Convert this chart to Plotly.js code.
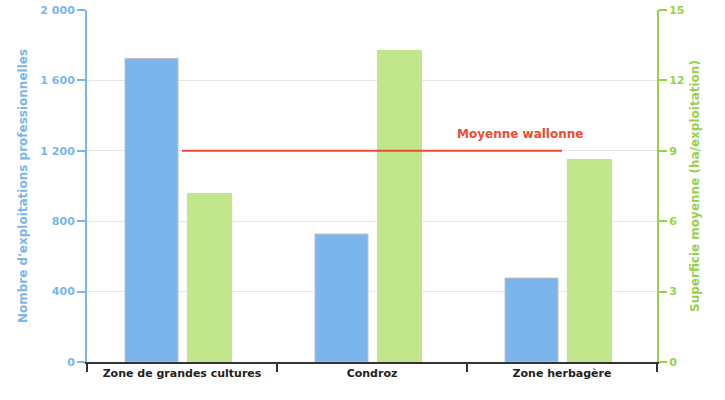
<!DOCTYPE html>
<html>
<head>
<meta charset="utf-8">
<script src="https://cdn.plot.ly/plotly-3.0.1.min.js"></script>
<style>html,body{margin:0;padding:0;background:#fff;}</style>
</head>
<body>
<div id="chart" style="width:725px;height:400px;"></div>
<script>
const categories = ["Zone de grandes cultures", "Condroz", "Zone herbagère"];
const exploitations = [1725, 727, 477];
const superficie = [7.2, 13.3, 8.65];
const moyenneWallonne = [9, 9, 9];
const leftTicks = [0, 400, 800, 1200, 1600, 2000];
const rightTicks = [0, 3, 6, 9, 12, 15];

const blue = "#7cb5ec";
const green = "#97d14b";
const red = "#ec4b32";
const font = "DejaVu Sans";

const traces = [
  {
    type: "bar", x: categories, y: exploitations, yaxis: "y",
    width: 0.279, offset: -0.3,
    marker: {color: blue, line: {color: "#c0c0c0", width: 1}},
    hoverinfo: "skip", showlegend: false
  },
  {
    type: "bar", x: categories, y: superficie, yaxis: "y2",
    width: 0.237, offset: 0.026,
    marker: {color: "#c2e68c", line: {width: 0}},
    hoverinfo: "skip", showlegend: false
  },
  {
    type: "scatter", mode: "lines", x: categories, y: moyenneWallonne, yaxis: "y2",
    line: {color: red, width: 2},
    hoverinfo: "skip", showlegend: false
  }
];

const layout = {
  width: 725, height: 400,
  margin: {l: 87, r: 68, t: 10, b: 38},
  paper_bgcolor: "#fff", plot_bgcolor: "#fff",
  separators: ", ",
  barmode: "overlay",
  font: {family: font},
  xaxis: {
    type: "category",
    tickson: "boundaries",
    ticks: "outside", ticklen: 8, tickwidth: 2, tickcolor: "#333",
    showline: true, linecolor: "#333", linewidth: 2,
    showgrid: false, zeroline: false,
    tickfont: {family: font, size: 11, color: "#222", weight: "bold"},
    range: [-0.5, 2.5], fixedrange: true
  },
  yaxis: {
    range: [0, 2000], tickvals: leftTicks, tickformat: ",d",
    ticks: "outside", ticklen: 8, tickwidth: 2, tickcolor: blue,
    showline: true, linecolor: blue, linewidth: 2,
    showgrid: true, gridcolor: "#e6e6e6", gridwidth: 1, zeroline: false,
    tickfont: {family: font, size: 11, color: blue, weight: "bold"},
    title: {text: "Nombre d'exploitations professionnelles", standoff: 10,
            font: {family: font, size: 12, color: blue, weight: "bold"}}
  },
  yaxis2: {
    overlaying: "y", side: "right",
    range: [0, 15], tickvals: rightTicks,
    ticks: "outside", ticklen: 8, tickwidth: 2, tickcolor: green,
    showline: true, linecolor: green, linewidth: 2,
    showgrid: false, zeroline: false,
    tickfont: {family: font, size: 11, color: green, weight: "bold"},
    title: {text: "Superficie moyenne (ha/exploitation)", standoff: 7,
            font: {family: font, size: 12, color: green, weight: "bold"}}
  },
  annotations: [{
    x: 2, y: 9, xref: "x", yref: "y2",
    text: "Moyenne wallonne", showarrow: false,
    xanchor: "right", yanchor: "bottom",
    xshift: 23, yshift: 8,
    font: {family: font, size: 12, color: red, weight: "bold"}
  }]
};

Plotly.newPlot("chart", traces, layout, {displayModeBar: false, staticPlot: true});
</script>
</body>
</html>
